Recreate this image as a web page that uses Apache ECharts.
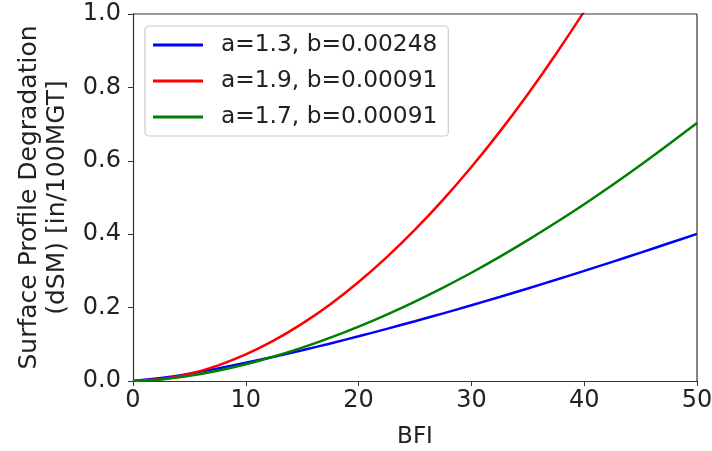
<!DOCTYPE html>
<html><head><meta charset="utf-8">
<script src="https://cdn.jsdelivr.net/npm/echarts@6/dist/echarts.min.js"></script>
<style>html,body{margin:0;padding:0;background:#fff}#c{width:712px;height:451px}</style>
</head><body><div id="c"></div>
<script>
const bfi = [0,2.5,5,7.5,10,12.5,15,17.5,20,22.5,25,27.5,30,32.5,35,37.5,40,42.5,45,47.5,50];
const seriesNames = ['a=1.3, b=0.00248','a=1.9, b=0.00091','a=1.7, b=0.00091'];
const blueVals = [0,0.0082,0.0201,0.0340,0.0495,0.0661,0.0838,0.1024,0.1218,0.1420,0.1629,0.1843,0.2064,0.2290,0.2522,0.2759,0.3000,0.3247,0.3497,0.3752,0.401];
const redVals = [0,0.0052,0.0194,0.0419,0.0723,0.1105,0.1562,0.2093,0.2698,0.3375,0.4124,0.4944,0.5831,0.6788,0.7814,0.8910,1.007,1.129];
const greenVals = [0,0.0043,0.0140,0.0280,0.0456,0.0666,0.0909,0.1181,0.1481,0.1811,0.2166,0.2547,0.2950,0.3382,0.3839,0.4318,0.4818,0.5341,0.5887,0.6453,0.703];
const colors = ['#0000ff','#ff0000','#008000'];
const yTicks = [0,0.2,0.4,0.6,0.8,1.0];
const xTicks = [0,10,20,30,40,50];

const font = 'DejaVu Sans';
const chart = echarts.init(document.getElementById('c'));
const toPairs = v => v.map((y,i)=>[bfi[i],y]);
const allVals = [blueVals, redVals, greenVals];
chart.setOption({
  animation:false,
  grid:{left:133,right:15,top:14,bottom:70,containLabel:false,outerBoundsMode:'none'},
  legend:{
    orient:'vertical', left:145, top:26,
    padding:[6,11,6,8],
    itemWidth:50, itemHeight:3, itemGap:10,
    icon:'rect',
    borderColor:'#cccccc', borderWidth:1.2, borderRadius:4,
    backgroundColor:'#fff',
    textStyle:{fontFamily:font,fontSize:23.3,color:'#222',lineHeight:26,padding:[0,0,0,13]},
    data:seriesNames
  },
  xAxis:{
    type:'value', min:0, max:50, interval:10,
    name:'BFI', nameLocation:'middle', nameGap:45,
    nameTextStyle:{fontFamily:font,fontSize:23,color:'#222'},
    axisLine:{show:true,lineStyle:{color:'#333',width:1.2}},
    axisTick:{show:true,inside:false,length:5,lineStyle:{color:'#333'}},
    axisLabel:{fontFamily:font,fontSize:24,color:'#222',margin:8},
    splitLine:{show:false}
  },
  yAxis:{
    type:'value', min:0, max:1, interval:0.2,
    name:'Surface Profile Degradation\n(dSM) [in/100MGT]', nameLocation:'middle', nameGap:62,
    nameTextStyle:{fontFamily:font,fontSize:25,color:'#222',lineHeight:28},
    axisLine:{show:true,lineStyle:{color:'#333',width:1.2}},
    axisTick:{show:true,inside:false,length:5,lineStyle:{color:'#333'}},
    axisLabel:{fontFamily:font,fontSize:24,color:'#222',margin:12,formatter:v=>v.toFixed(1)},
    splitLine:{show:false}
  },
  series: seriesNames.map((n,i)=>({
    name:n, type:'line', data:toPairs(allVals[i]), smooth:0.3, showSymbol:false, symbol:'none',
    clip:true, color:colors[i], lineStyle:{width:2.5,color:colors[i]}
  })),
  graphic:[
    {type:'line',shape:{x1:133,y1:14,x2:697,y2:14},style:{stroke:'#333',lineWidth:1.2},z:10},
    {type:'line',shape:{x1:697,y1:14,x2:697,y2:381},style:{stroke:'#333',lineWidth:1.2},z:10}
  ]
});
</script></body></html>
